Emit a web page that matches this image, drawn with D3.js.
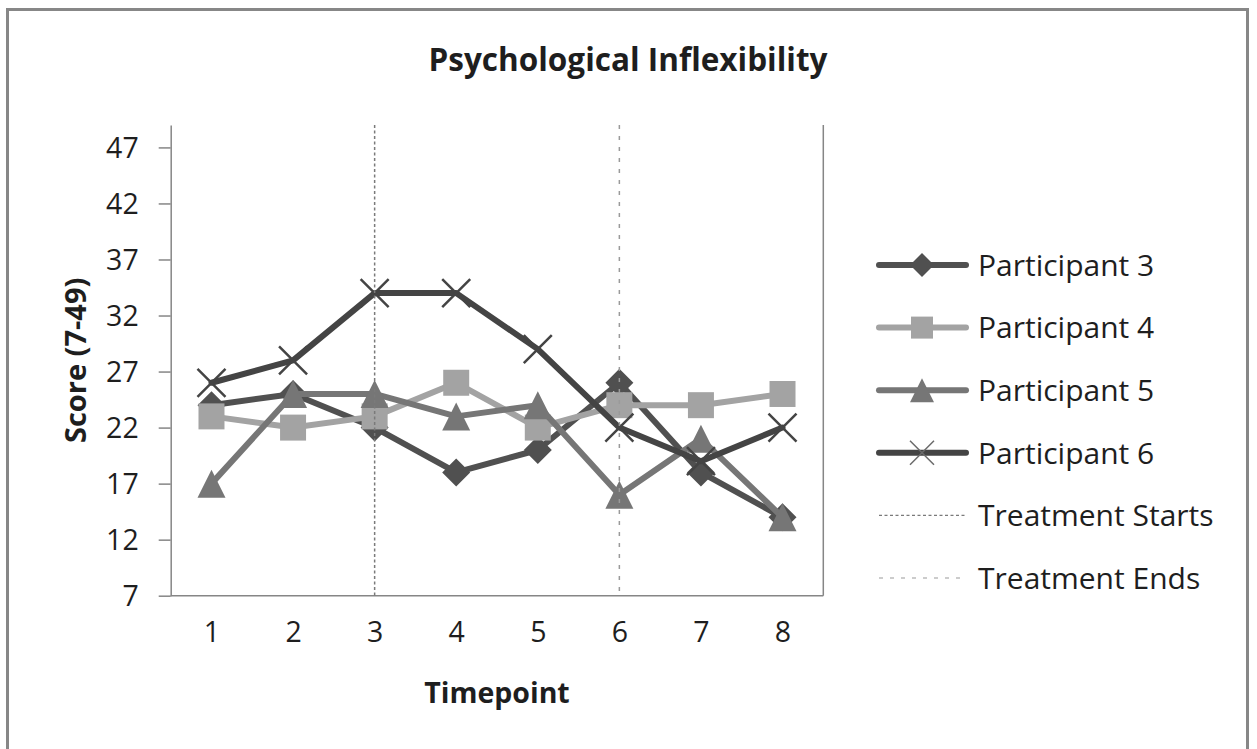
<!DOCTYPE html>
<html>
<head>
<meta charset="utf-8">
<script src="https://cdn.jsdelivr.net/npm/d3@7"></script>
<style>
  html, body { margin: 0; padding: 0; background: #fff; }
  text { font-family: "Open Sans", "Noto Sans", sans-serif; fill: #1e1e1e; }
</style>
</head>
<body>
<svg id="chart" width="1257" height="749"></svg>
<script>
  // values
  const timepoints = [1, 2, 3, 4, 5, 6, 7, 8];
  const participant3 = [24, 25, 22, 18, 20, 26, 18, 14];
  const participant4 = [23, 22, 23, 26, 22, 24, 24, 25];
  const participant5 = [17, 25, 25, 23, 24, 16, 21, 14];
  const participant6 = [26, 28, 34, 34, 29, 22, 19, 22];
  const yTicks = [7, 12, 17, 22, 27, 32, 37, 42, 47];
  const treatmentStart = 3;
  const treatmentEnd = 6;

  // custom marker shapes (size = half width)
  const diamond = { draw(c, s) { c.moveTo(0, -s); c.lineTo(s, 0); c.lineTo(0, s); c.lineTo(-s, 0); c.closePath(); } };
  const square = { draw(c, s) { c.rect(-s, -s, 2 * s, 2 * s); } };
  const triangle = { draw(c, s) { c.moveTo(0, -s); c.lineTo(s, s); c.lineTo(-s, s); c.closePath(); } };
  const cross = { draw(c, s) { c.moveTo(-s, -s); c.lineTo(s, s); c.moveTo(s, -s); c.lineTo(-s, s); } };

  const series = [
    { name: 'Participant 3', values: participant3, color: '#505050', shape: diamond, size: 14, filled: true },
    { name: 'Participant 4', values: participant4, color: '#a3a3a3', shape: square, size: 13, filled: true },
    { name: 'Participant 5', values: participant5, color: '#767676', shape: triangle, size: 14, filled: true },
    { name: 'Participant 6', values: participant6, color: '#444444', shape: cross, size: 14, filled: false }
  ];

  const svg = d3.select('#chart');
  const plotLeft = 170.7, plotRight = 823.3, plotTop = 125, plotBottom = 595.7;

  // outer chart border
  svg.append('rect')
    .attr('x', 7.5).attr('y', 9.5)
    .attr('width', 1240).attr('height', 780)
    .attr('fill', '#fff')
    .attr('stroke', '#878787')
    .attr('stroke-width', 3);

  const x = d3.scalePoint().domain(timepoints).range([plotLeft, plotRight]).padding(0.5);
  const y = d3.scaleLinear().domain([7, 49]).range([plotBottom, plotTop]);

  // title
  svg.append('text')
    .attr('x', 628).attr('y', 71)
    .attr('text-anchor', 'middle')
    .style('font-weight', 'bold')
    .style('font-size', '31.5px')
    .text('Psychological Inflexibility');

  // y axis
  const yAxis = svg.append('g')
    .attr('transform', `translate(${plotLeft},0)`)
    .call(d3.axisLeft(y).tickValues(yTicks).tickSize(12).tickPadding(20).tickSizeOuter(0));
  yAxis.select('.domain').attr('stroke', '#868686').attr('stroke-width', 1.5);
  yAxis.selectAll('.tick line').attr('stroke', '#868686').attr('stroke-width', 1.5);
  yAxis.selectAll('.tick text')
    .style('font-size', '28.5px')
    .style('font-family', '"Open Sans", sans-serif')
    .attr('fill', '#1e1e1e')
    .attr('dy', '0.36em');

  // x axis
  const xAxis = svg.append('g')
    .attr('transform', `translate(0,${plotBottom})`)
    .call(d3.axisBottom(x).tickSize(0).tickPadding(26).tickSizeOuter(0));
  xAxis.select('.domain').attr('d', `M${plotLeft},0H${plotRight}`).attr('stroke', '#868686').attr('stroke-width', 1.5);
  xAxis.selectAll('.tick text')
    .style('font-size', '28.5px')
    .style('font-family', '"Open Sans", sans-serif')
    .attr('fill', '#1e1e1e');

  // right border of plot area
  svg.append('line')
    .attr('x1', plotRight).attr('x2', plotRight)
    .attr('y1', plotTop).attr('y2', plotBottom)
    .attr('stroke', '#868686').attr('stroke-width', 1.5);

  // axis titles
  svg.append('text')
    .attr('x', (plotLeft + plotRight) / 2).attr('y', 703)
    .attr('text-anchor', 'middle')
    .style('font-weight', 'bold').style('font-size', '28.5px')
    .text('Timepoint');

  svg.append('text')
    .attr('transform', `translate(86,${(plotTop + plotBottom) / 2}) rotate(-90)`)
    .attr('text-anchor', 'middle')
    .style('font-weight', 'bold').style('font-size', '29px')
    .text('Score (7-49)');

  // series
  const line = d3.line().x((d, i) => x(timepoints[i])).y(d => y(d));
  series.forEach(s => {
    const g = svg.append('g');
    g.append('path')
      .attr('d', line(s.values))
      .attr('fill', 'none')
      .attr('stroke', s.color)
      .attr('stroke-width', 6)
      .attr('stroke-linejoin', 'round')
      .attr('stroke-linecap', 'round');
    g.selectAll('path.marker')
      .data(s.values)
      .enter()
      .append('path')
      .attr('class', 'marker')
      .attr('transform', (d, i) => `translate(${x(timepoints[i])},${y(d)})`)
      .attr('d', d3.symbol().type(s.shape).size(s.size))
      .attr('fill', s.filled ? s.color : 'none')
      .attr('stroke', s.filled ? 'none' : s.color)
      .attr('stroke-width', 2.5);
  });

  // treatment lines
  const treatment = [
    { name: 'Treatment Starts', at: treatmentStart, color: '#7a7a7a', dash: '3,2.5' },
    { name: 'Treatment Ends', at: treatmentEnd, color: '#9a9a9a', dash: '4,7' }
  ];
  treatment.forEach(t => {
    svg.append('line')
      .attr('x1', x(t.at)).attr('x2', x(t.at))
      .attr('y1', plotTop).attr('y2', plotBottom)
      .attr('stroke', t.color)
      .attr('stroke-width', 1.5)
      .attr('stroke-dasharray', t.dash);
  });

  // legend
  const legendItems = series.map(s => ({ ...s, type: 'series' }))
    .concat(treatment.map(t => ({ ...t, type: 'ref' })));
  const legend = svg.append('g');
  const legendRow = legend.selectAll('g')
    .data(legendItems)
    .enter()
    .append('g')
    .attr('transform', (d, i) => `translate(0,${265 + i * 62.6})`);

  legendRow.filter(d => d.type === 'series').each(function (d) {
    const row = d3.select(this);
    row.append('line')
      .attr('x1', 879).attr('x2', 966)
      .attr('stroke', d.color).attr('stroke-width', 6)
      .attr('stroke-linecap', 'round');
    row.append('path')
      .attr('transform', 'translate(922,0)')
      .attr('d', d3.symbol().type(d.shape).size(d.filled ? d.size - 2 : 12))
      .attr('fill', d.filled ? d.color : 'none')
      .attr('stroke', d.filled ? 'none' : '#6a6a6a')
      .attr('stroke-width', 1.5);
  });

  legendRow.filter(d => d.type === 'ref')
    .append('line')
    .attr('x1', 879).attr('x2', 966)
    .attr('stroke', d => d.color).attr('stroke-width', 1.2)
    .attr('stroke-dasharray', d => d.dash);

  legendRow.append('text')
    .attr('x', 978)
    .attr('dy', '0.36em')
    .style('font-size', '30px')
    .text(d => d.name);
</script>
</body>
</html>
